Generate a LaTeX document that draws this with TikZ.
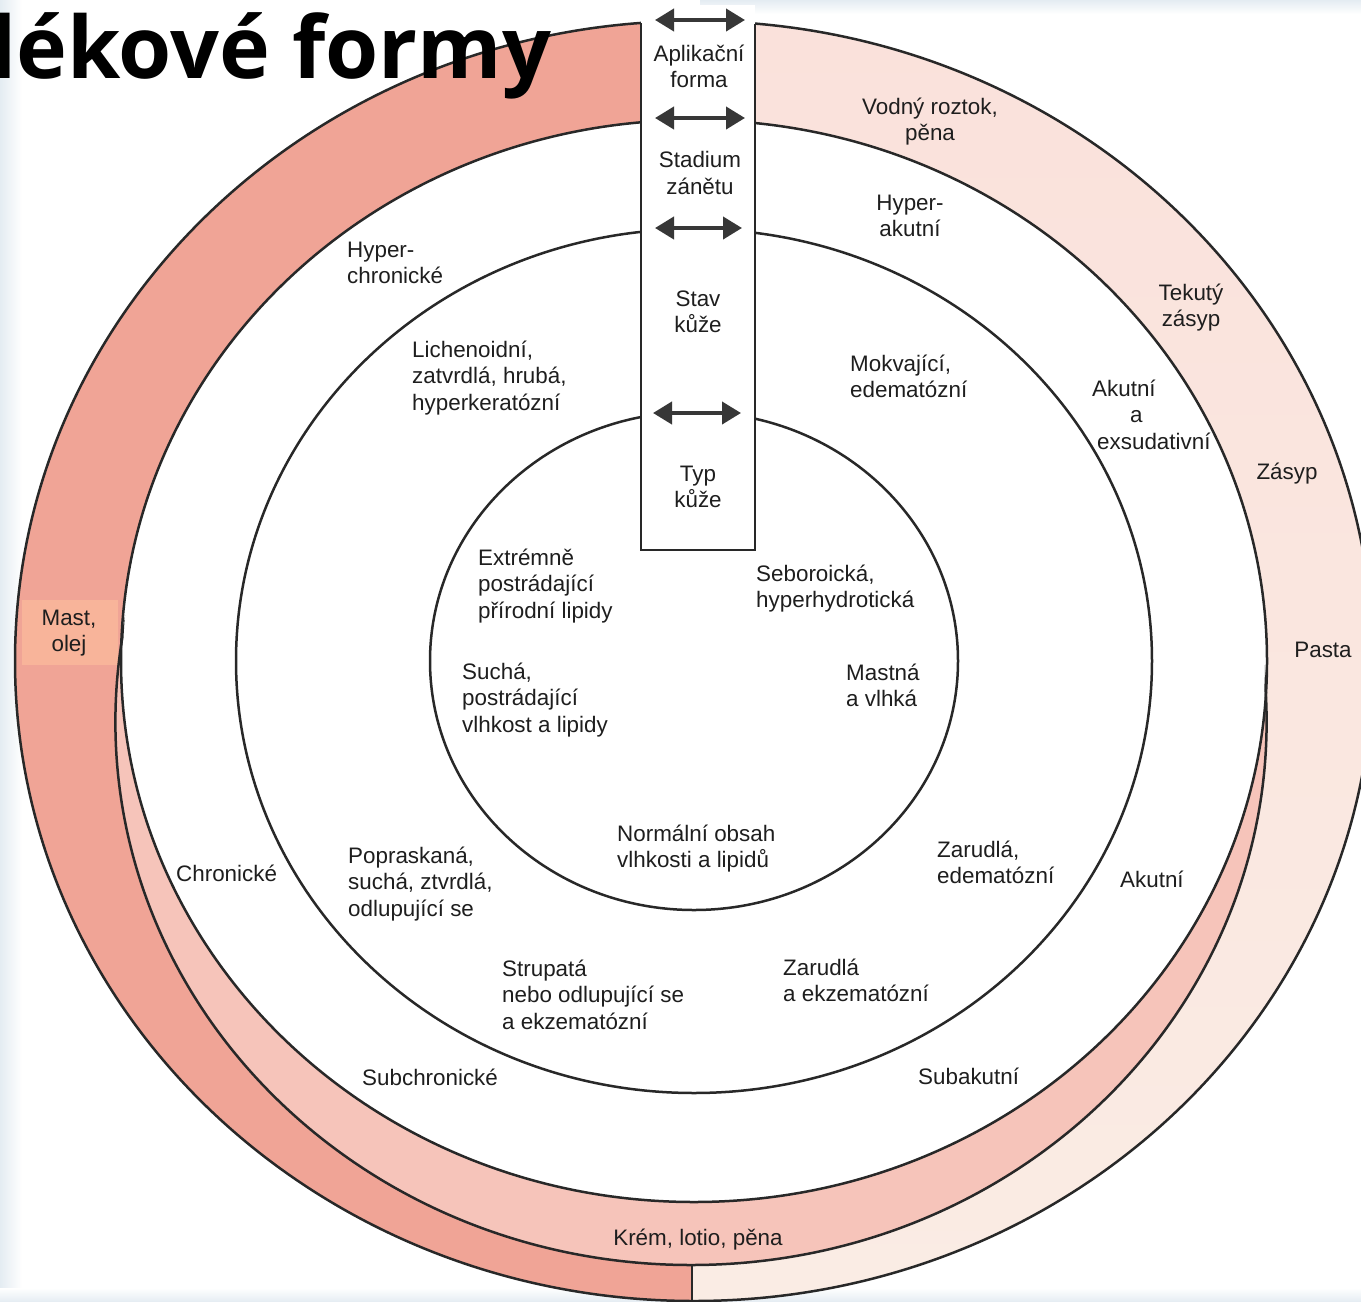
\documentclass[tikz,border=0pt]{standalone}
\usepackage{fontspec}
\setmainfont{Liberation Sans}
\newfontfamily\titlefont{Open Sans}
\usetikzlibrary{arrows.meta}
\definecolor{mast}{RGB}{240,164,150}
\definecolor{mastbox}{RGB}{248,180,154}
\definecolor{krem}{RGB}{246,196,186}
\definecolor{pastatop}{RGB}{250,225,219}
\definecolor{pastabot}{RGB}{250,236,228}
\definecolor{ink}{RGB}{30,30,30}
\definecolor{linec}{RGB}{40,40,40}
\definecolor{arr}{RGB}{55,55,55}
\definecolor{scan}{RGB}{228,236,242}
\begin{document}
\begin{tikzpicture}[x=1pt,y=-1pt,
  ring/.style={draw=linec, line width=2.5pt},
  dbl/.style={draw=arr, line width=4pt, {Triangle[length=19pt,width=22pt]}-{Triangle[length=19pt,width=22pt]}},
  lbl/.style={font=\fontsize{22.4}{26.5}\selectfont, inner sep=0pt, text=ink, execute at begin node=\strut, yshift=18.55pt},
  lblL/.style={lbl, anchor=north west, align=left},
  lblC/.style={lbl, anchor=north, align=center}]
\useasboundingbox (0,0) rectangle (1361,1302);
\fill[white] (0,0) rectangle (1361,1302);
% faint scan edges
\shade[left color=scan, right color=white] (0,0) rectangle (22,1302);
\shade[top color=scan, bottom color=white] (700,0) rectangle (1361,14);
\shade[top color=white, bottom color=scan] (0,1288) rectangle (1361,1302);
% outer ring halves
\begin{scope}
  \clip (694,661) ellipse [x radius=679pt, y radius=640pt];
  \fill[mast] (0,0) rectangle (692,1302);
  \shade[top color=pastatop, bottom color=pastabot] (692,0) rectangle (1361,1302);
\end{scope}
% cream crescent
\fill[krem] (691,722) ellipse [x radius=575.6pt, y radius=543pt];
\fill[white] (694,661) ellipse [x radius=573pt, y radius=541pt];
% Mast box
\fill[mastbox] (22,600) rectangle (118,665);
% ring lines
\draw[ring] (694,661) ellipse [x radius=679pt, y radius=640pt];
\draw[ring] (694,661) ellipse [x radius=573pt, y radius=541pt];
\begin{scope}[even odd rule]
  \clip (-50,-50) rectangle (1450,1400) (694,661) ellipse [x radius=571pt, y radius=539pt];
  \draw[ring] (691,722) ellipse [x radius=575.6pt, y radius=543pt];
\end{scope}
\draw[ring] (694,661) ellipse [x radius=458pt, y radius=432pt];
\draw[ring] (694,661) ellipse [x radius=264pt, y radius=249pt];
% central bar
\fill[white] (641,5) rectangle (755,550);
\coordinate (barTL) at (641,23);
\coordinate (barBL) at (641,550);
\coordinate (barBR) at (755,550);
\coordinate (barTR) at (755,24);
\draw[draw=linec, line width=2.6pt] (barTL) -- (barBL) -- (barBR) -- (barTR);
% bottom separator
\coordinate (sepT) at (692,1265);
\coordinate (sepB) at (692,1302);
\draw[draw=linec, line width=2.4pt] (sepT) -- (sepB);
% arrows
\coordinate (a1l) at (655,20);  \coordinate (a1r) at (745,20);
\coordinate (a2l) at (655,118); \coordinate (a2r) at (745,118);
\coordinate (a3l) at (655,228); \coordinate (a3r) at (742,228);
\coordinate (a4l) at (653,413); \coordinate (a4r) at (741,413);
\draw[dbl] (a1l) -- (a1r);
\draw[dbl] (a2l) -- (a2r);
\draw[dbl] (a3l) -- (a3r);
\draw[dbl] (a4l) -- (a4r);
% bar labels
\node[lblC] (apl) at (699,63) {Aplikační\\forma};
\node[lblC] (stad) at (700,170) {Stadium\\zánětu};
\node[lblC] (stav) at (698,309) {Stav\\kůže};
\node[lblC] (typ) at (698,484) {Typ\\kůže};
% application forms
\node[lblC] (vod) at (930,116) {Vodný roztok,\\pěna};
\node[lblC] (tek) at (1191,302) {Tekutý\\zásyp};
\node[lblC] (zas) at (1287,479) {Zásyp};
\node[lblC] (pas) at (1323,657) {Pasta};
\node[lblC] (mas) at (69,628) {Mast,\\olej};
\node[lblC] (kre) at (698,1245) {Krém, lotio, pěna};
% stages
\node[lblC] (hak) at (910,213) {Hyper-\\akutní};
\node[lblL] (hch) at (347,260) {Hyper-\\chronické};
\node[lblL] (akex) at (1092,398) {Akutní\\\hspace*{38pt}a\\\hspace*{5pt}exsudativní};
\node[lblL] (chr) at (176,881) {Chronické};
\node[lblL] (aku) at (1120,887) {Akutní};
\node[lblL] (sch) at (362,1085) {Subchronické};
\node[lblL] (sak) at (918,1084) {Subakutní};
% skin state
\node[lblL] (lich) at (412,359) {Lichenoidní,\\zatvrdlá, hrubá,\\hyperkeratózní};
\node[lblL] (mok) at (850,373) {Mokvající,\\edematózní};
\node[lblL] (pop) at (348,865) {Popraskaná,\\suchá, ztvrdlá,\\odlupující se};
\node[lblL] (zed) at (937,859) {Zarudlá,\\edematózní};
\node[lblL] (str) at (502,978) {Strupatá\\nebo odlupující se\\a ekzematózní};
\node[lblL] (zek) at (783,977) {Zarudlá\\a ekzematózní};
% skin type
\node[lblL] (ext) at (478,567) {Extrémně\\postrádající\\přírodní lipidy};
\node[lblL] (seb) at (756,583) {Seboroická,\\hyperhydrotická};
\node[lblL] (such) at (462,681) {Suchá,\\postrádající\\vlhkost a lipidy};
\node[lblL] (mvl) at (846,682) {Mastná\\a vlhká};
\node[lblL] (norm) at (617,843) {Normální obsah\\vlhkosti a lipidů};
% title
\node[anchor=base west, inner sep=0pt, text=black, font=\titlefont\bfseries\fontsize{86}{86}\selectfont] (title) at (-10,78) {lékové formy};
\end{tikzpicture}
\end{document}
